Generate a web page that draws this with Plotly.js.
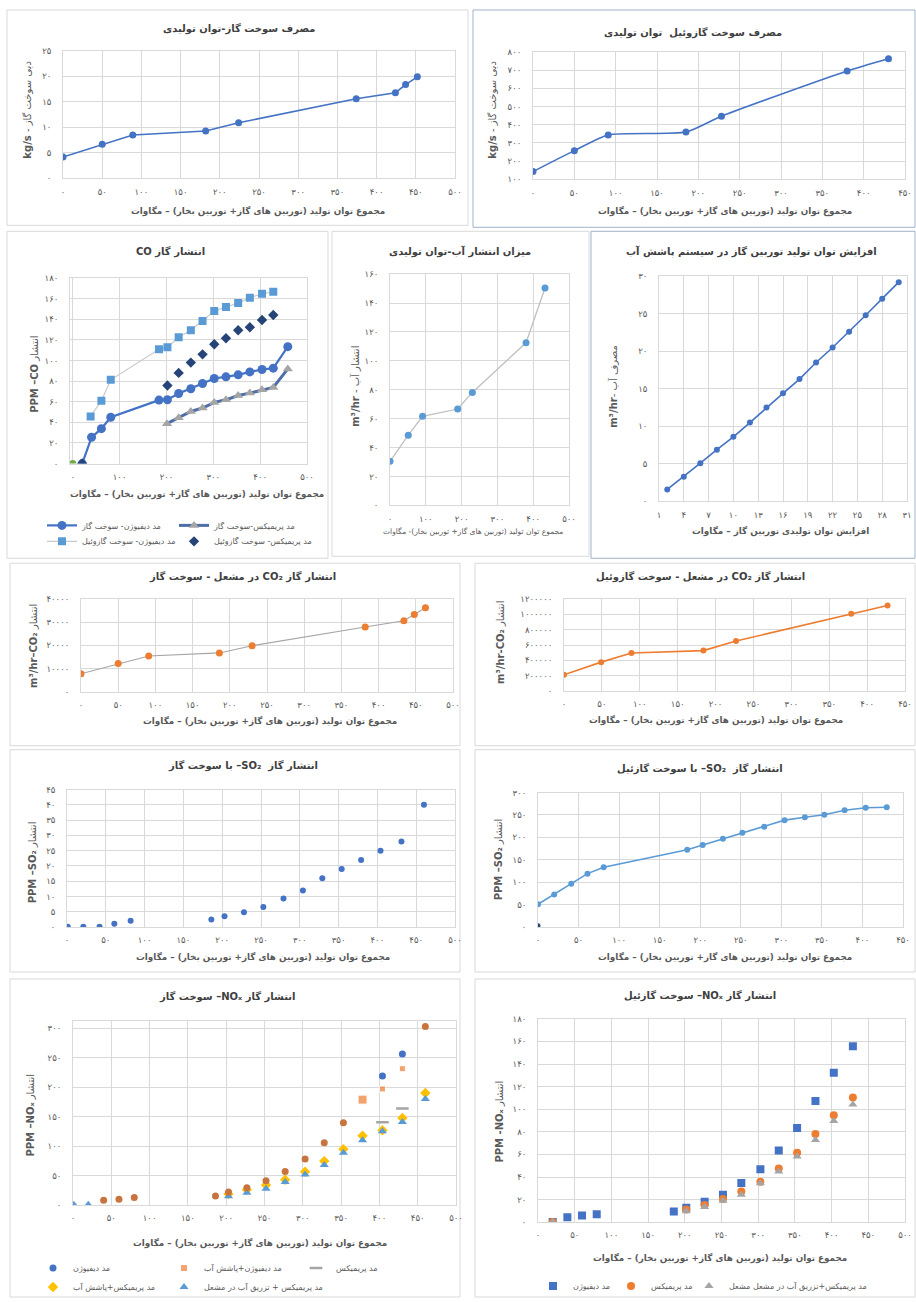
<!DOCTYPE html>
<html><head><meta charset="utf-8">
<script src="https://cdn.plot.ly/plotly-3.0.1.min.js"></script>
<style>html,body{margin:0;padding:0;background:#fff}#chart{width:916px;height:1302px}</style>
</head><body><div id="chart"></div>
<script>
// ---------------- DATA ----------------
// Panel 1: gas fuel consumption vs total power
const fuelGasPower = [0, 50, 89, 182, 224, 374, 424, 437, 452];
const fuelGasFlow  = [4.2, 6.7, 8.5, 9.3, 10.9, 15.6, 16.8, 18.4, 19.9];
// Panel 2: gasoil fuel consumption
const fuelOilPower = [0, 50, 91, 185, 228, 380, 430];
const fuelOilFlow  = [143, 258, 344, 360, 447, 695, 762];
// Panel 3: CO emission
const coDiffGasPower = [20, 40, 61, 81, 184, 202, 226, 252, 277, 302, 327, 353, 378, 404, 428, 459];
const coDiffGas      = [0, 25.5, 33.9, 45, 61.6, 62, 68, 72.6, 77.7, 82.6, 84.2, 86.1, 89, 91.3, 92.6, 113.5];
const coPremixGasPower = [201, 226, 252, 277, 302, 327, 353, 378, 404, 428, 459];
const coPremixGas      = [38.7, 44.5, 50.6, 53.9, 59.4, 61.9, 66.1, 68.4, 71.6, 73.9, 91.9];
const coDiffOilPower = [38, 61, 81, 184, 202, 226, 252, 277, 302, 327, 353, 378, 404, 428];
const coDiffOil      = [45.8, 61, 81.3, 111, 112.9, 122.6, 129.4, 138.4, 148, 152, 155.8, 161, 164.8, 166.8];
const coPremixOilPower = [20, 202, 226, 252, 277, 302, 327, 353, 378, 404, 428];
const coPremixOil      = [0, 75.8, 88, 98, 106, 115.8, 121.6, 129.4, 132.3, 139.4, 144.2];
const coExtraPower = [0];
const coExtra      = [0];
// Panel 4: water emission
const waterOutPower = [0, 51, 91, 189, 230, 380, 433];
const waterOut      = [30.5, 48.6, 61.7, 66.7, 78.2, 112.5, 150.4];
// Panel 5: water spray consumption
const sprayPower = [2, 4, 6, 8, 10, 12, 14, 16, 18, 20, 22, 24, 26, 28, 30];
const sprayWater = [1.6, 3.3, 5.1, 6.9, 8.6, 10.5, 12.5, 14.4, 16.3, 18.5, 20.5, 22.6, 24.8, 27.0, 29.2];
// Panel 6: CO2 gas fuel
const co2GasPower = [0, 50, 91, 186, 230, 382, 434, 448, 463];
const co2Gas      = [7800, 12200, 15500, 16800, 19900, 28000, 30700, 33400, 36300];
// Panel 7: CO2 gasoil
const co2OilPower = [0, 49, 89, 184, 227, 379, 427];
const co2Oil      = [211000, 376000, 496000, 527000, 652000, 1010000, 1118000];
// Panel 8: SO2 gas fuel
const so2GasPower = [1, 21, 42, 61, 82, 186, 203, 228, 253, 279, 304, 329, 354, 379, 404, 431, 460];
const so2Gas      = [0.1, 0.1, 0.1, 1.1, 2.1, 2.5, 3.6, 4.9, 6.6, 9.4, 12, 16, 19, 22, 25, 28, 40];
// Panel 9: SO2 gasoil
const so2OilPower = [0, 20, 41, 61, 81, 184, 203, 228, 252, 279, 304, 329, 353, 378, 404, 430];
const so2Oil      = [51, 72.6, 97, 119.3, 133.3, 172.6, 183, 197, 210.4, 223.7, 238.5, 245, 250.4, 260.7, 266, 267.4];
const so2ExtraPower = [0];
const so2Extra      = [3];
// Panel 10: NOx gas fuel
const noxGasDiffPower = [404, 430];
const noxGasDiff      = [219.4, 256.6];
const noxGasDiffWaterPower = [378, 404, 430];
const noxGasDiffWater      = [179.3, 197.4, 231.8];
const noxGasPremixPower = [404, 430];
const noxGasPremix      = [141, 164.1];
const noxGasPremixWaterPower = [203, 227, 252, 277, 303, 328, 353, 378, 404, 430, 460];
const noxGasPremixWater      = [19, 26.5, 34.4, 43.4, 57, 75, 95.3, 117.9, 127.4, 148.3, 190.6];
const noxGasInjPower = [1, 20, 203, 227, 252, 277, 303, 328, 353, 378, 404, 430, 460];
const noxGasInj      = [1.1, 1.1, 15.2, 21.4, 28.2, 39.5, 52.4, 68.2, 89.1, 110.5, 125.8, 141.5, 180.5];
const noxGasOtherPower = [40, 60, 80, 186, 203, 227, 252, 277, 303, 328, 353, 460];
const noxGasOther      = [8.5, 10.2, 13, 15.8, 22.6, 29.9, 41.7, 57.5, 78.4, 106, 139.9, 303.4];
// Panel 11: NOx gasoil
const noxOilDiffPower = [20, 40, 60, 80, 185, 202, 227, 252, 277, 303, 328, 353, 378, 403, 429];
const noxOilDiff      = [0.3, 4.4, 5.9, 7, 9.4, 12.9, 18.2, 24.4, 34.7, 47, 63.4, 83.4, 107.2, 132.2, 155.7];
const noxOilPremixPower = [20, 202, 227, 252, 277, 303, 328, 353, 378, 403, 429];
const noxOilPremix      = [0.3, 11.2, 15.3, 20.6, 27.3, 35.8, 47.6, 61.4, 78.1, 94.6, 110.4];
const noxOilInj         = [0.3, 9.7, 13.5, 19.1, 24.4, 34.4, 44.9, 58.1, 72.8, 89.6, 104.3];

// Tick values
const xTicks500 = [0, 50, 100, 150, 200, 250, 300, 350, 400, 450, 500];
const xTicks450 = [0, 50, 100, 150, 200, 250, 300, 350, 400, 450];
const xTicksBy100 = [0, 100, 200, 300, 400, 500];
const xTicksSpray = [1, 4, 7, 10, 13, 16, 19, 22, 25, 28, 31];
const yTicksGasFuel = [0, 5, 10, 15, 20, 25];
const yTicksOilFuel = [100, 200, 300, 400, 500, 600, 700, 800];
const yTicksCO = [0, 20, 40, 60, 80, 100, 120, 140, 160, 180];
const yTicksWaterOut = [0, 20, 40, 60, 80, 100, 120, 140, 160];
const yTicksSpray = [0, 5, 10, 15, 20, 25, 30];
const yTicksCO2Gas = [0, 10000, 20000, 30000, 40000];
const yTicksCO2Oil = [0, 200000, 400000, 600000, 800000, 1000000, 1200000];
const yTicksSO2Gas = [0, 5, 10, 15, 20, 25, 30, 35, 40, 45];
const yTicksSO2Oil = [0, 50, 100, 150, 200, 250, 300];
const yTicksNOxGas = [0, 50, 100, 150, 200, 250, 300];
const yTicksNOxOil = [0, 20, 40, 60, 80, 100, 120, 140, 160, 180];

// ---------------- HELPERS ----------------
const W = 916, H = 1302;
const FONT = 'DejaVu Sans, Open Sans, sans-serif';
const GRID = '#D9D9D9';
const TXT = '#595959';
const fa = n => String(n).replace(/\d/g, d => '۰۱۲۳۴۵۶۷۸۹'[d]);
const rtl = s => '\u202B' + s + '\u202C';

const layout = {
  width: W, height: H, margin: {l: 0, r: 0, t: 0, b: 0},
  paper_bgcolor: '#fff', plot_bgcolor: '#fff',
  font: {family: FONT, color: TXT},
  showlegend: true, annotations: [], shapes: []
};

// panel geometry in px: plot area
const panels = [
  {x: [63, 455],  y: [51, 179],    xr: [0, 500], xt: xTicks500,   yr: [0, 25],      yt: yTicksGasFuel},
  {x: [533, 905], y: [52, 180],    xr: [0, 450], xt: xTicks450,   yr: [100, 800],   yt: yTicksOilFuel},
  {x: [70, 307],  y: [279, 465],   xr: [-6, 500], xt: xTicksBy100, yr: [0, 180],    yt: yTicksCO},
  {x: [390, 569], y: [275, 507],   xr: [0, 500], xt: xTicksBy100, yr: [0, 160],     yt: yTicksWaterOut},
  {x: [659, 907], y: [277, 503],   xr: [1, 31],  xt: xTicksSpray, yr: [0, 30],      yt: yTicksSpray},
  {x: [81, 453],  y: [601, 694],   xr: [0, 500], xt: xTicks500,   yr: [0, 40000],   yt: yTicksCO2Gas},
  {x: [564, 905], y: [601, 693],   xr: [0, 450], xt: xTicks450,   yr: [0, 1200000], yt: yTicksCO2Oil},
  {x: [67, 455],  y: [792, 930],   xr: [0, 500], xt: xTicks500,   yr: [0, 45],      yt: yTicksSO2Gas},
  {x: [538, 903], y: [795, 930],   xr: [0, 450], xt: xTicks450,   yr: [0, 300],     yt: yTicksSO2Oil},
  {x: [73, 456],  y: [1024, 1209], xr: [0, 500], xt: xTicks500,   yr: [0, 313],     yt: yTicksNOxGas},
  {x: [538, 905], y: [1022, 1226], xr: [0, 500], xt: xTicks500,   yr: [0, 180],     yt: yTicksNOxOil}
];
panels.forEach((p, i) => {
  const s = i === 0 ? '' : String(i + 1);
  const common = {showgrid: true, gridcolor: GRID, gridwidth: 1, zeroline: false, showline: true,
    linecolor: GRID, linewidth: 1, mirror: true, ticks: '', fixedrange: true,
    tickfont: {family: FONT, size: 8.5, color: TXT}};
  layout['xaxis' + s] = Object.assign({}, common, {domain: [p.x[0] / W, p.x[1] / W], range: p.xr,
    tickvals: p.xt, ticktext: p.xt.map(fa), anchor: 'y' + s, ticklabelstandoff: 5});
  layout['yaxis' + s] = Object.assign({}, common, {domain: [1 - p.y[1] / H, 1 - p.y[0] / H], range: p.yr,
    tickvals: p.yt, ticktext: p.yt.map(fa), anchor: 'x' + s, ticklabelstandoff: 9});
});

function ax(i) { const s = i === 1 ? '' : String(i); return {xaxis: 'x' + s, yaxis: 'y' + s}; }

const traces = [];
function add(i, t) { traces.push(Object.assign({type: 'scatter', showlegend: false, hoverinfo: 'skip'}, ax(i), t)); }

// one legend per legend entry, placed at the symbol's pixel position
let legN = 0;
function legendAt(symX, symY) {
  legN += 1;
  const key = legN === 1 ? 'legend' : 'legend' + legN;
  layout[key] = {x: (symX - 19) / W, y: 1 - symY / H, xref: 'paper', yref: 'paper', xanchor: 'left', yanchor: 'middle',
    orientation: 'h', bgcolor: 'rgba(0,0,0,0)', borderwidth: 0, font: {family: FONT, size: 8, color: TXT},
    itemclick: false, itemdoubleclick: false};
  return key;
}

const BLUE = '#4472C4', LBLUE = '#5B9BD5', ORANGE = '#ED7D31', GRAY = '#A5A5A5', YELLOW = '#FFC000', NAVY = '#264478';

add(1, {x: fuelGasPower, y: fuelGasFlow, mode: 'lines+markers', line: {color: BLUE, width: 1.6}, marker: {color: BLUE, size: 7}});
add(2, {x: fuelOilPower, y: fuelOilFlow, mode: 'lines+markers', line: {color: BLUE, width: 1.6, shape: 'spline', smoothing: 0.6}, marker: {color: BLUE, size: 7}});

add(3, {x: coExtraPower, y: coExtra, mode: 'markers', marker: {color: '#70AD47', size: 7}});
add(3, {x: coDiffOilPower, y: coDiffOil, mode: 'lines+markers', name: rtl('مد دیفیوژن- سوخت گازوئیل'), showlegend: true, legend: legendAt(61, 543),
  line: {color: '#C9C9C9', width: 1.2}, marker: {color: LBLUE, symbol: 'square', size: 8}});
add(3, {x: coPremixGasPower, y: coPremixGas, mode: 'lines+markers', name: rtl('مد پریمیکس-سوخت گاز'), showlegend: true, legend: legendAt(193, 527),
  line: {color: '#4E6EA8', width: 3}, marker: {color: GRAY, symbol: 'triangle-up', size: 9}});
add(3, {x: coDiffGasPower, y: coDiffGas, mode: 'lines+markers', name: rtl('مد دیفیوژن- سوخت گاز'), showlegend: true, legend: legendAt(61, 527),
  line: {color: BLUE, width: 2.2}, marker: {color: BLUE, size: 9}});
add(3, {x: coPremixOilPower, y: coPremixOil, mode: 'markers', name: rtl('مد پریمیکس- سوخت گازوئیل'), showlegend: true, legend: legendAt(193, 543),
  marker: {color: NAVY, symbol: 'diamond', size: 8}});

add(4, {x: waterOutPower, y: waterOut, mode: 'lines+markers', line: {color: '#BFBFBF', width: 1.3}, marker: {color: LBLUE, size: 7}});
add(5, {x: sprayPower, y: sprayWater, mode: 'lines+markers', line: {color: BLUE, width: 1.6}, marker: {color: BLUE, size: 6}});
add(6, {x: co2GasPower, y: co2Gas, mode: 'lines+markers', line: {color: GRAY, width: 1.1}, marker: {color: ORANGE, size: 7}});
add(7, {x: co2OilPower, y: co2Oil, mode: 'lines+markers', line: {color: ORANGE, width: 1.6}, marker: {color: ORANGE, size: 6}});
add(8, {x: so2GasPower, y: so2Gas, mode: 'markers', marker: {color: BLUE, size: 6}});
add(9, {x: so2ExtraPower, y: so2Extra, mode: 'markers', marker: {color: NAVY, size: 5}});
add(9, {x: so2OilPower, y: so2Oil, mode: 'lines+markers', line: {color: LBLUE, width: 1.6}, marker: {color: LBLUE, size: 6}});

add(10, {x: noxGasDiffPower, y: noxGasDiff, mode: 'markers', name: rtl('مد دیفیوژن'), showlegend: true, legend: legendAt(52, 1272), marker: {color: BLUE, size: 7}});
add(10, {x: noxGasDiffWaterPower, y: noxGasDiffWater, mode: 'markers', name: rtl('مد دیفیوژن+پاشش آب'), showlegend: true, legend: legendAt(183, 1272), marker: {color: ORANGE, symbol: 'square', size: [9, 6, 6]}});
add(10, {x: noxGasPremixPower, y: noxGasPremix, mode: 'markers', name: rtl('مد پریمیکس'), showlegend: true, legend: legendAt(315, 1272), marker: {symbol: 'line-ew', size: 9, color: GRAY, line: {color: GRAY, width: 2.5}}});
add(10, {x: noxGasPremixWaterPower, y: noxGasPremixWater, mode: 'markers', name: rtl('مد پریمیکس+پاشش آب'), showlegend: true, legend: legendAt(52, 1291), marker: {color: YELLOW, symbol: 'diamond', size: 8}});
add(10, {x: noxGasInjPower, y: noxGasInj, mode: 'markers', name: rtl('مد پریمیکس + تزریق آب در مشعل'), showlegend: true, legend: legendAt(183, 1291), marker: {color: LBLUE, symbol: 'triangle-up', size: 8}});
add(10, {x: noxGasOtherPower, y: noxGasOther, mode: 'markers', marker: {color: '#C7743F', size: 7}});

add(11, {x: noxOilDiffPower, y: noxOilDiff, mode: 'markers', name: rtl('مد دیفیوژن'), showlegend: true, legend: legendAt(552, 1290), marker: {color: BLUE, symbol: 'square', size: 8}});
add(11, {x: noxOilPremixPower, y: noxOilPremix, mode: 'markers', name: rtl('مد پریمیکس'), showlegend: true, legend: legendAt(630, 1290), marker: {color: ORANGE, size: 8}});
add(11, {x: noxOilPremixPower, y: noxOilInj, mode: 'markers', name: rtl('مد پریمیکس+تزریق آب در مشعل مشعل'), showlegend: true, legend: legendAt(708, 1290), marker: {color: GRAY, symbol: 'triangle-up', size: 8}});

// panel borders
function box(x0, y0, x1, y1, c) {
  return {type: 'rect', xref: 'paper', yref: 'paper', x0: x0 / W, x1: x1 / W, y0: 1 - y1 / H, y1: 1 - y0 / H,
    line: {color: c, width: 1}, fillcolor: 'rgba(0,0,0,0)', layer: 'below'};
}
const BORD = '#D9D9D9', BORD2 = '#9FB2C9';
layout.shapes.push(
  box(7, 10, 468, 226, BORD), box(473, 10, 915, 228, BORD2),
  box(7, 232, 328, 560, BORD), box(332, 232, 589, 558, BORD), box(591, 232, 915, 560, BORD2),
  box(10, 565, 460, 748, BORD), box(475, 565, 915, 748, BORD),
  box(10, 752, 460, 975, BORD), box(475, 752, 915, 975, BORD),
  box(10, 982, 460, 1301, BORD), box(475, 982, 915, 1301, BORD)
);

// text
function ann(text, xpx, ypx, size, opt) {
  return Object.assign({text: text, x: xpx / W, y: 1 - ypx / H, xref: 'paper', yref: 'paper', showarrow: false,
    xanchor: 'center', yanchor: 'middle', font: {family: FONT, size: size, color: '#404040'}}, opt || {});
}
const chartTitles = [
  ['مصرف سوخت گاز-توان تولیدی', 239, 29],
  ['مصرف سوخت گازوئیل  توان تولیدی', 693, 33],
  ['انتشار گاز CO', 170, 252],
  ['میزان انتشار آب-توان تولیدی', 460, 252],
  ['افزایش توان تولید توربین گاز در سیستم پاشش آب', 751, 252],
  ['انتشار گاز CO₂ در مشعل - سوخت گاز', 242, 578],
  ['انتشار گاز CO₂ در مشعل - سوخت گازوئیل', 700, 578],
  ['انتشار گاز  SO₂– با سوخت گاز', 243, 768],
  ['انتشار گاز  SO₂– با سوخت گازئیل', 700, 771],
  ['انتشار گاز NOₓ– سوخت گاز', 227, 1000],
  ['انتشار گاز NOₓ– سوخت گازئیل', 700, 999]
];
chartTitles.forEach(t => layout.annotations.push(ann('<b>' + rtl(t[0]) + '</b>', t[1], t[2], 10)));

const XT = 'مجموع توان تولید (توربین های گاز+ توربین بخار) – مگاوات';
const xTitles = [
  [XT, 258, 212, 8.8], [XT, 725, 212, 8.8], [XT, 197, 496, 8.8],
  ['مجموع توان تولید (توربین های گاز+ توربین بخار)- مگاوات', 473, 533, 7.5],
  ['افزایش توان تولیدی توربین گاز – مگاوات', 780, 533, 8.8],
  [XT, 270, 724, 8.8], [XT, 716, 723, 8.8], [XT, 263, 960, 8.8], [XT, 725, 960, 8.8],
  [XT, 260, 1247, 8.8], [XT, 720, 1262, 8.8]
];
xTitles.forEach(t => layout.annotations.push(ann(t[3] < 8 ? rtl(t[0]) : '<b>' + rtl(t[0]) + '</b>', t[1], t[2], t[3], {font: {family: FONT, size: t[3], color: TXT}})));

const yTitles = [
  ['<b>kg/s</b> - دبی سوخت گاز', 28, 110],
  ['<b>kg/s</b> - دبی سوخت گاز', 493, 110],
  ['<b>PPM –CO</b> انتشار', 35, 375],
  ['<b>m³/hr</b> - انتشار آب', 355, 388],
  ['<b>m³/hr</b>- مصرف آب', 613, 388],
  ['<b>m³/hr–CO₂</b> انتشار', 33, 648],
  ['<b>m³/hr-CO₂</b> انتشار', 500, 645],
  ['<b>PPM –SO₂</b> انتشار', 32, 865],
  ['<b>PPM –SO₂</b> انتشار', 498, 862],
  ['<b>PPM –NOₓ</b> انتشار', 31, 1119],
  ['<b>PPM -NOₓ</b> انتشار', 500, 1125]
];
yTitles.forEach(t => layout.annotations.push(ann(t[0], t[1], t[2], 10, {textangle: -90, font: {family: FONT, size: 10, color: TXT}})));

Plotly.newPlot('chart', traces, layout, {staticPlot: true, displayModeBar: false});
</script></body></html>
